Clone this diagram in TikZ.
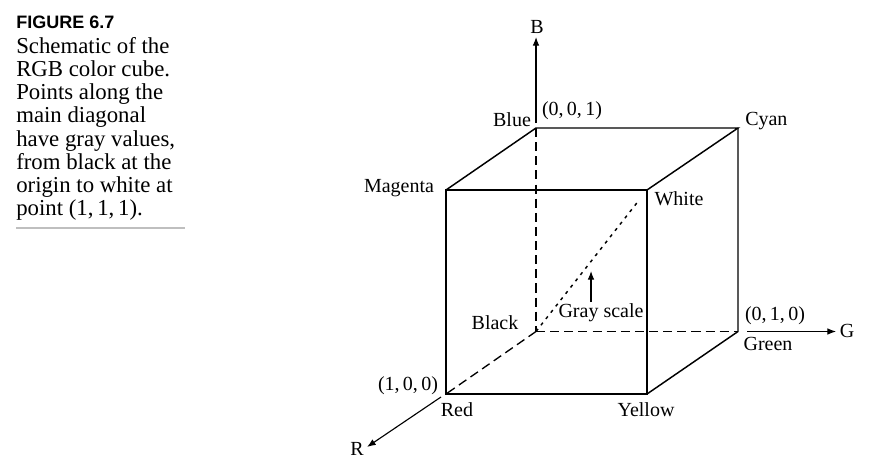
\documentclass[tikz,border=0pt]{standalone}
\usepackage{fontspec}
\usetikzlibrary{arrows.meta}
\setmainfont{Liberation Serif}
\newfontfamily\headfont{Liberation Sans}
\tikzset{
  edgeline/.style={line width=1.1pt,line cap=round},
  hiddenline/.style={line width=1pt,dash pattern=on 6.8pt off 3.8pt},
  grayline/.style={line width=1.1pt,dash pattern=on 2.4pt off 3.6pt},
  axisline/.style={line width=0.85pt,-{Latex[length=6.5pt,width=5pt]}},
  colorlabel/.style={inner sep=0pt,font=\fontsize{15}{18}\selectfont},
}
\begin{document}
\begin{tikzpicture}[x=0.75pt,y=-0.75pt]
\useasboundingbox (0,0) rectangle (875,457);
% caption
\node[anchor=north west,inner sep=0pt,font=\headfont\bfseries\fontsize{13.5}{16}\selectfont] (captionhead) at (16,16) {FIGURE 6.7};
\node[anchor=north west,inner sep=0pt,align=left,font=\fontsize{17.1}{17.4}\selectfont] (captiontext) at (16,37) {Schematic of the\\RGB color cube.\\Points along the\\main diagonal\\have gray values,\\from black at the\\origin to white at\\point (1,\,1,\,1).};
\coordinate (ruleleft) at (16,228);
\coordinate (ruleright) at (185,228);
\draw[black!25,line width=1.2pt] (ruleleft) -- (ruleright);
% cube corners
\coordinate (black) at (536,331.5);
\coordinate (red) at (446,394);
\coordinate (yellow) at (647,394);
\coordinate (green) at (738,331.5);
\coordinate (blue) at (536,128);
\coordinate (magenta) at (446,190);
\coordinate (white) at (647,190);
\coordinate (cyan) at (738,128);
% visible edges
\draw[edgeline] (magenta) -- (white) -- (yellow) -- (red) -- cycle;
\draw[edgeline] (magenta) -- (blue) -- (cyan) -- (white);
\draw[edgeline] (cyan) -- (green) -- (yellow);
% hidden edges
\draw[hiddenline] (blue) -- (black);
\draw[hiddenline] (black) -- (green);
\draw[hiddenline] (black) -- (red);
\draw[grayline,shorten >=10pt] (black) -- (white);
% axes
\coordinate (bstart) at (536,123);
\coordinate (bend) at (536,37);
\coordinate (gstart) at (747,331.5);
\coordinate (gend) at (836,331.5);
\coordinate (rstart) at (441,397);
\coordinate (rend) at (367,447);
\draw[axisline] (bstart) -- (bend);
\draw[axisline] (gstart) -- (gend);
\draw[axisline] (rstart) -- (rend);
\coordinate (graytail) at (591,302);
\coordinate (grayhead) at (591,271);
\draw[axisline] (graytail) -- (grayhead);
% labels
\node[colorlabel] (blabel) at (537,27) {B};
\node[colorlabel] (glabel) at (847,331) {G};
\node[colorlabel] (rlabel) at (357,449) {R};
\node[colorlabel] (bluelabel) at (512,120) {Blue};
\node[colorlabel] (bluepoint) at (572,111) {(0,\,0,\,1)};
\node[colorlabel,anchor=west] (cyanlabel) at (745,121) {Cyan};
\node[colorlabel] (magentalabel) at (399,188) {Magenta};
\node[colorlabel] (whitelabel) at (679,199) {White};
\node[colorlabel] (blacklabel) at (495,323) {Black};
\node[colorlabel] (graylabel) at (601,313) {Gray scale};
\node[colorlabel] (greenpoint) at (775,316) {(0,\,1,\,0)};
\node[colorlabel] (greenlabel) at (768,344) {Green};
\node[colorlabel] (redpoint) at (408,386) {(1,\,0,\,0)};
\node[colorlabel] (redlabel) at (457,410) {Red};
\node[colorlabel] (yellowlabel) at (646,410) {Yellow};
\end{tikzpicture}
\end{document}
